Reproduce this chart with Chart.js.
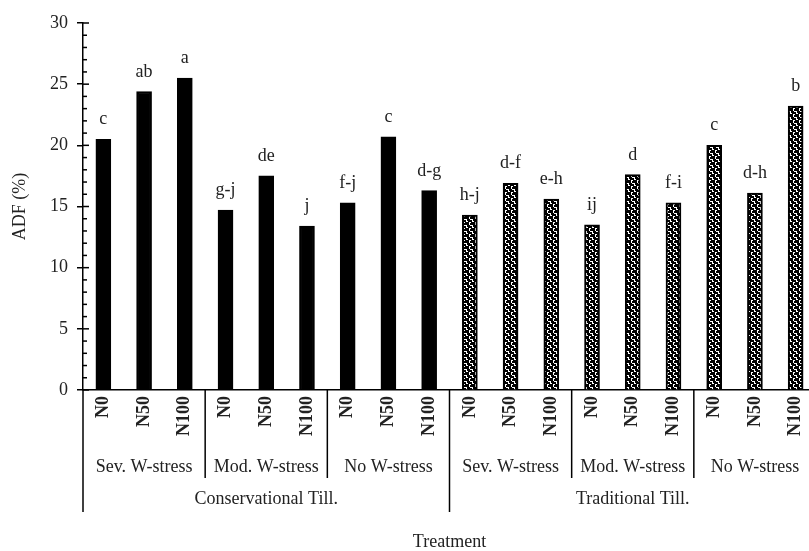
<!DOCTYPE html>
<html>
<head>
<meta charset="utf-8">
<script src="https://cdn.jsdelivr.net/npm/chart.js@4/dist/chart.umd.min.js"></script>
<style>
	html, body { margin: 0; padding: 0; background: #fff; overflow: hidden; }
	#wrap { width: 830px; height: 551px; }
</style>
</head>
<body>
<div id="wrap"><canvas id="adfChart" width="830" height="551"></canvas></div>
<script>
const nLevels = ['N0', 'N50', 'N100', 'N0', 'N50', 'N100', 'N0', 'N50', 'N100',
	'N0', 'N50', 'N100', 'N0', 'N50', 'N100', 'N0', 'N50', 'N100'];
const waterGroups = ['Sev. W-stress', 'Mod. W-stress', 'No W-stress'];
const tillGroups = ['Conservational Till.', 'Traditional Till.'];
const adfValues = [20.5, 24.4, 25.5, 14.7, 17.5, 13.4, 15.3, 20.7, 16.3,
	14.3, 16.9, 15.6, 13.5, 17.6, 15.3, 20.0, 16.1, 23.2];
const letters = ['c', 'ab', 'a', 'g-j', 'de', 'j', 'f-j', 'c', 'd-g',
	'h-j', 'd-f', 'e-h', 'ij', 'd', 'f-i', 'c', 'd-h', 'b'];
const yMin = 0, yMax = 30, yStep = 5;

const serif = '"Liberation Serif", "Times New Roman", serif';
const textColor = '#222';

// patterned fill for the traditional tillage bars (black with white squiggles)
function makePattern() {
	const c = document.createElement('canvas');
	c.width = 6; c.height = 6;
	const g = c.getContext('2d');
	g.fillStyle = '#000';
	g.fillRect(0, 0, 6, 6);
	g.fillStyle = '#fff';
	g.fillRect(1, 0, 2, 1);
	g.fillRect(1, 1, 1, 2);
	g.fillRect(2, 3, 2, 1);
	g.fillRect(4, 3, 1, 2);
	g.fillRect(4, 5, 2, 1);
	return g.createPattern(c, 'repeat');
}
const pattern = makePattern();
const fills = adfValues.map((v, i) => i < 9 ? '#000' : pattern);

function line(ctx, x1, y1, x2, y2) {
	ctx.beginPath();
	ctx.moveTo(x1, y1);
	ctx.lineTo(x2, y2);
	ctx.stroke();
}

const decorations = {
	id: 'decorations',
	afterDraw(chart) {
		const { ctx } = chart;
		const x = chart.scales.x, y = chart.scales.y;
		const base = y.getPixelForValue(0);
		const axisX = x.left;
		ctx.save();
		ctx.strokeStyle = '#000';
		ctx.lineWidth = 1.5;
		// minor ticks and inner half of the major ticks
		for (let v = yMin; v <= yMax; v++) {
			const py = y.getPixelForValue(v);
			line(ctx, axisX, py, axisX + (v % yStep === 0 ? 6 : 4), py);
		}
		// y axis runs down past the group labels
		line(ctx, axisX, base, axisX, base + 122);
		// group separators
		for (let i = 3; i < nLevels.length; i += 3) {
			const sx = (x.getPixelForValue(i - 1) + x.getPixelForValue(i)) / 2;
			line(ctx, sx, base, sx, i === 9 ? base + 122 : base + 88);
		}
		ctx.fillStyle = textColor;
		ctx.textAlign = 'center';
		ctx.textBaseline = 'middle';
		ctx.font = '18px ' + serif;
		for (let g = 0; g < 6; g++) {
			ctx.fillText(waterGroups[g % 3], x.getPixelForValue(g * 3 + 1), base + 77);
		}
		tillGroups.forEach((t, k) => {
			ctx.fillText(t, x.getPixelForValue(k * 9 + 4), base + 109);
		});
		// significance letters
		ctx.textBaseline = 'alphabetic';
		chart.getDatasetMeta(0).data.forEach((bar, i) => {
			ctx.fillText(letters[i], bar.x, bar.y - 15);
		});
		ctx.restore();
	}
};

const ctx = document.getElementById('adfChart').getContext('2d');
const adfChart = new Chart(ctx, {
	type: 'bar',
	data: {
		labels: nLevels,
		datasets: [{
			label: 'ADF (%)',
			data: adfValues,
			backgroundColor: fills,
			borderColor: '#000',
			borderWidth: 2,
			barThickness: 15
		}]
	},
	options: {
		responsive: false,
		animation: false,
		layout: { padding: { left: 0, top: 23, right: 14, bottom: 0 } },
		plugins: {
			legend: { display: false },
			tooltip: { enabled: false }
		},
		scales: {
			x: {
				grid: { display: false, drawTicks: false },
				border: { display: true, color: '#000', width: 1.5 },
				ticks: {
					autoSkip: false,
					minRotation: 90,
					maxRotation: 90,
					padding: 6,
					color: textColor,
					font: { family: serif, size: 18, weight: 'bold' }
				},
				title: {
					display: true,
					text: 'Treatment',
					color: textColor,
					font: { family: serif, size: 18, lineHeight: 1 },
					padding: { top: 0, bottom: 0 }
				},
				afterFit(scale) { scale.height = 161; }
			},
			y: {
				min: yMin,
				max: yMax,
				ticks: {
					stepSize: yStep,
					padding: 9,
					color: textColor,
					font: { family: serif, size: 18 }
				},
				grid: { drawOnChartArea: false, tickLength: 6, color: '#000', lineWidth: 1.5 },
				border: { display: true, color: '#000', width: 1.5 },
				title: {
					display: true,
					text: 'ADF (%)',
					color: textColor,
					font: { family: serif, size: 18 },
					padding: { top: 9, bottom: 0 }
				},
				afterFit(scale) { scale.width = 83; }
			}
		}
	},
	plugins: [decorations]
});
</script>
</body>
</html>
